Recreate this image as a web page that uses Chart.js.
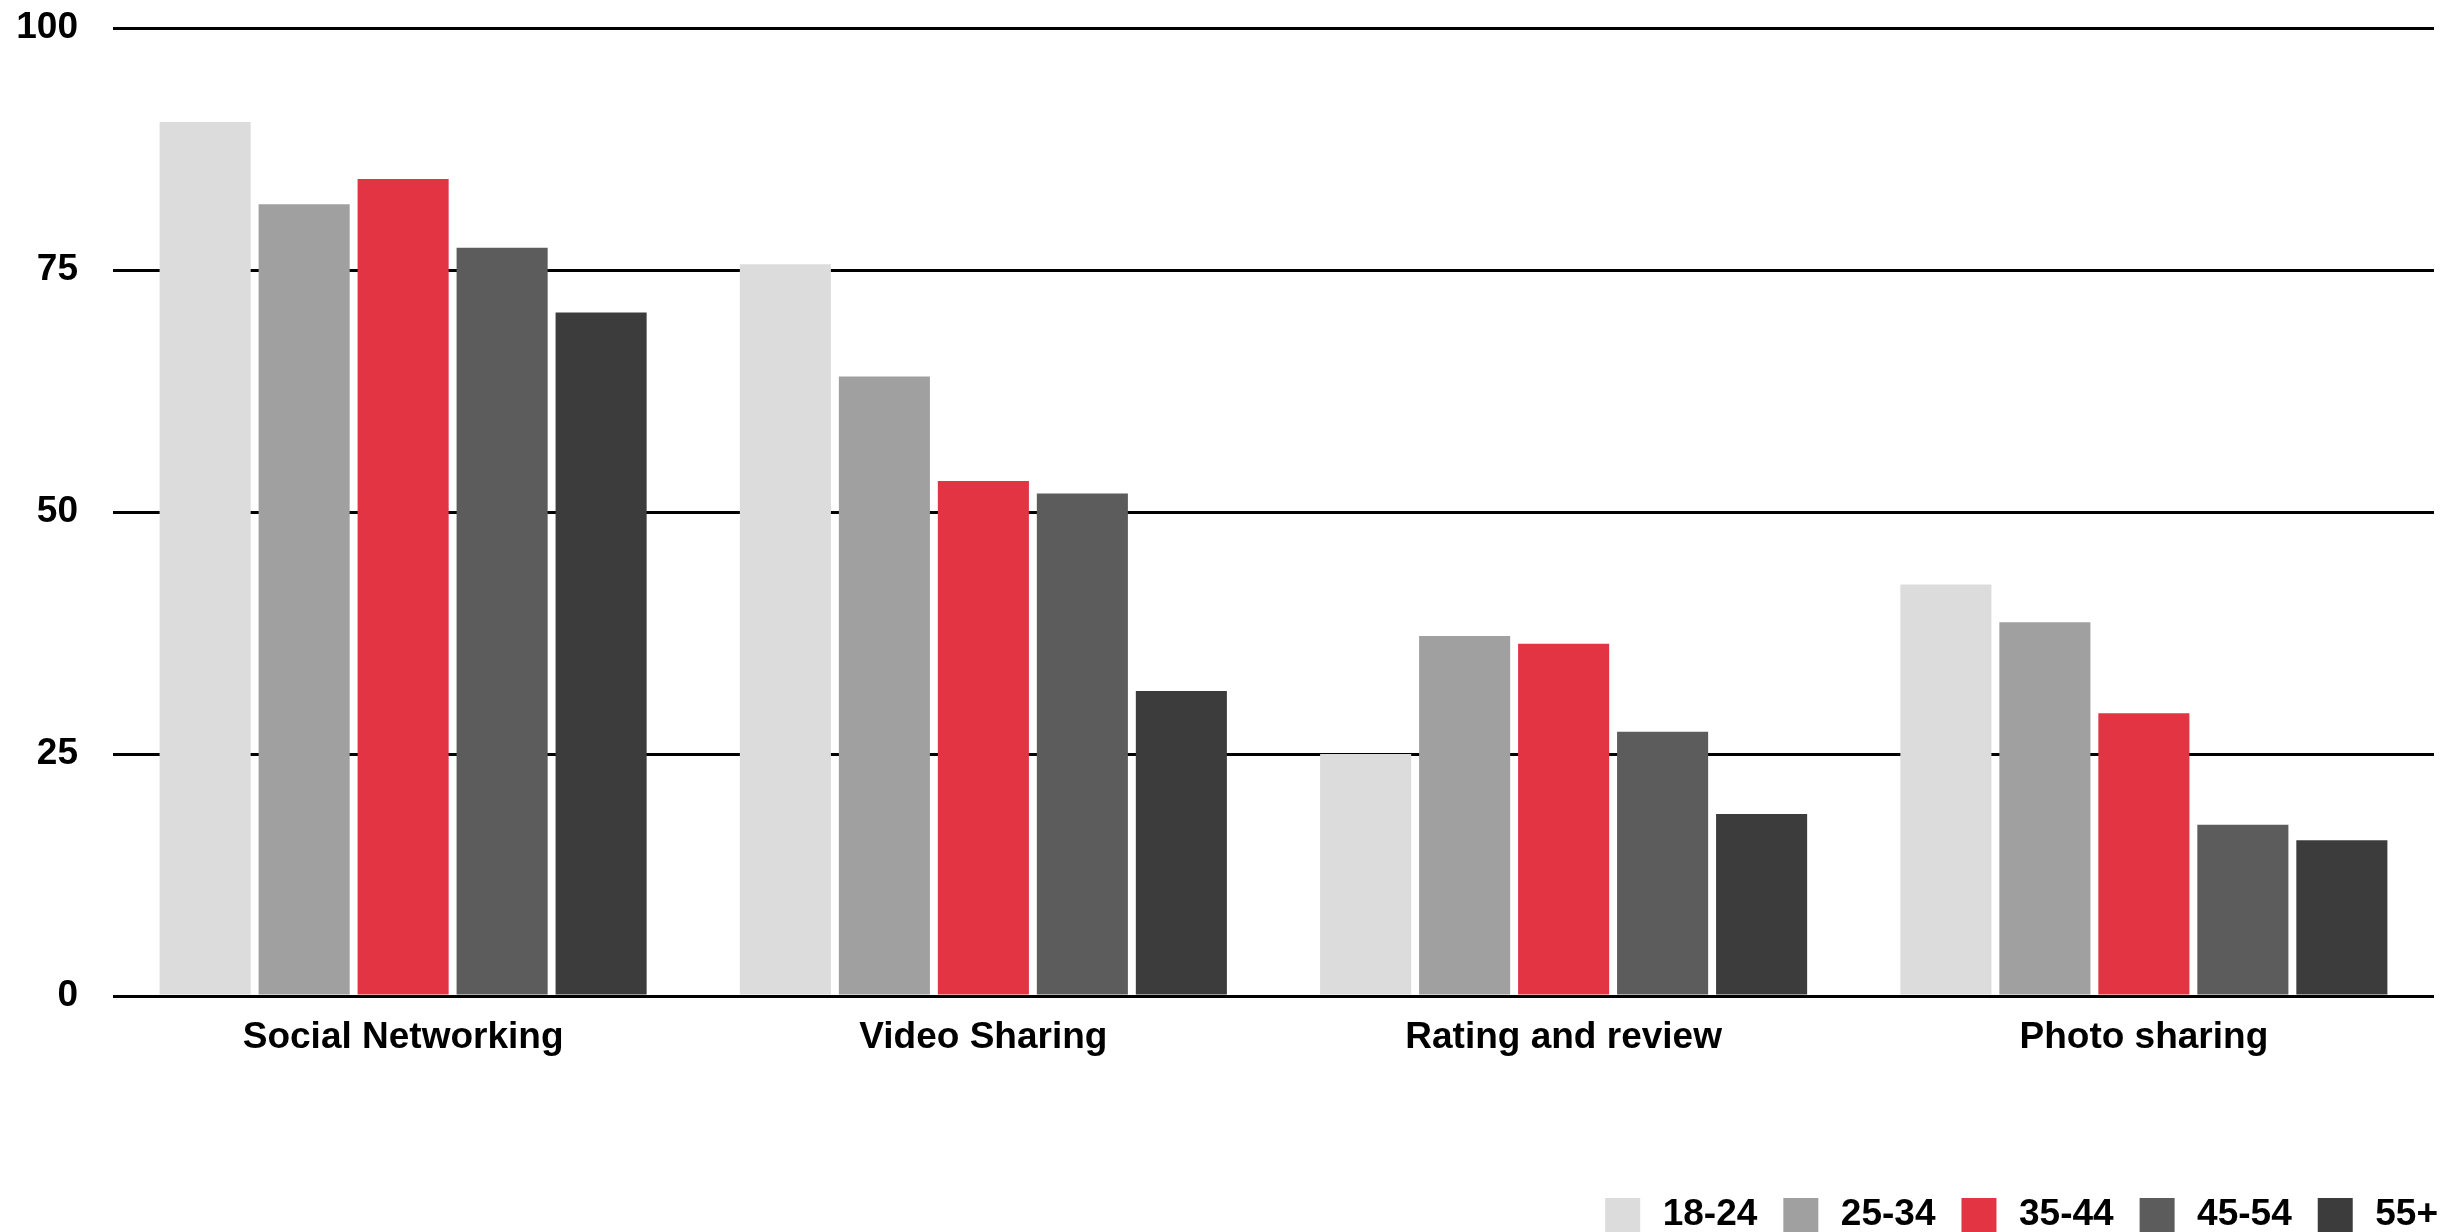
<!DOCTYPE html>
<html lang="en">
<head>
    <meta charset="UTF-8">
    <script src="https://cdn.jsdelivr.net/npm/chart.js@4.4.1/dist/chart.umd.min.js"></script>
    <title>Activities by age group</title>
    <style>
        body { margin: 0; background: #fff; }
        #wrap { width: 2462px; height: 1232px; }
    </style>
</head>
<body>
    <div id="wrap">
        <canvas id="chart" width="2462" height="1232"></canvas>
    </div>
    <script>
        // categories + age group series (%)
        const categories = ['Social Networking', 'Video Sharing', 'Rating and review', 'Photo sharing'];
        const ageGroups = ['18-24', '25-34', '35-44', '45-54', '55+'];
        const age18to24 = [90.3, 75.6, 25.0, 42.5];
        const age25to34 = [81.8, 64.0, 37.2, 38.6];
        const age35to44 = [84.4, 53.2, 36.4, 29.2];
        const age45to54 = [77.3, 51.9, 27.3, 17.7];
        const age55plus = [70.6, 31.5, 18.8, 16.1];
        const yTicks = [0, 25, 50, 75, 100];

        const colors = ['#dcdcdc', '#a0a0a0', '#e33443', '#5c5c5c', '#3c3c3c'];
        const series = [age18to24, age25to34, age35to44, age45to54, age55plus];

        const font = { family: '"Liberation Sans", Arial, Helvetica, sans-serif', size: 37, weight: 'bold' };

        const config = {
            type: 'bar',
            data: {
                labels: categories,
                datasets: series.map((vals, i) => ({
                    label: ageGroups[i],
                    data: vals,
                    backgroundColor: colors[i],
                    borderWidth: 0,
                    categoryPercentage: 0.853,
                    barPercentage: 0.92
                }))
            },
            options: {
                responsive: false,
                animation: false,
                layout: { padding: { left: 0, right: 2, top: 0, bottom: -14 } },
                plugins: {
                    legend: {
                        position: 'bottom',
                        align: 'end',
                        labels: {
                            color: '#000',
                            font: font,
                            boxWidth: 43,
                            boxHeight: 42,
                            padding: 22,
                            // white outline trims the swatch and widens the gap to the text
                            generateLabels: (chart) => {
                                const items = Chart.defaults.plugins.legend.labels.generateLabels(chart);
                                items.forEach(it => { it.strokeStyle = '#fff'; it.lineWidth = 8; });
                                return items;
                            }
                        }
                    },
                    tooltip: { enabled: false }
                },
                scales: {
                    x: {
                        grid: { display: false, drawTicks: false },
                        border: { display: false },
                        ticks: { color: '#000', font: font, padding: 20 },
                        afterFit: (scale) => { scale.height = 176; }
                    },
                    y: {
                        min: 0,
                        max: 100,
                        afterBuildTicks: (scale) => { scale.ticks = yTicks.map(v => ({ value: v })); },
                        grid: { color: '#000', lineWidth: 3, drawTicks: false },
                        border: { display: false },
                        ticks: { color: '#000', font: font, padding: 35 },
                        afterFit: (scale) => { scale.width = 113; scale.paddingTop = 28; }
                    },
                    // empty right-side spacer so the plot stops short of the legend edge
                    y2: {
                        position: 'right',
                        display: true,
                        grid: { display: false, drawTicks: false },
                        border: { display: false },
                        ticks: { display: false },
                        afterFit: (scale) => { scale.width = 26; }
                    }
                }
            }
        };

        const ctx = document.getElementById('chart');
        const chart = new Chart(ctx, config);
    </script>
</body>
</html>
